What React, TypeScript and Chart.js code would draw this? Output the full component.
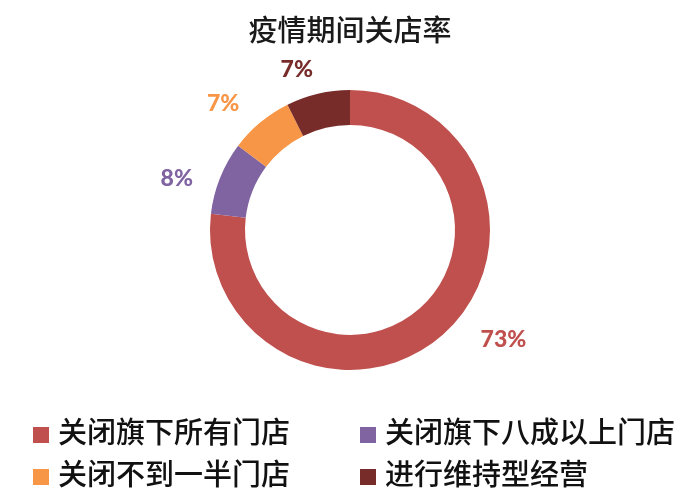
import React, { useEffect, useRef } from 'react';
import { Chart, registerables, Plugin } from 'chart.js';

Chart.register(...registerables);

const title = '疫情期间关店率';
const categories = ['关闭旗下所有门店', '关闭旗下八成以上门店', '关闭不到一半门店', '进行维持型经营'];
const shares = [73, 8, 7, 7];
const colors = ['#C0504D', '#8064A2', '#F79646', '#772C2A'];

// where the percent labels sit round the ring (degrees of shift, px from centre)
const labelShift = [-13, -5, -5, -5];
const labelDist = [188, 181, 180, 170];

const cjk = '"Noto Sans CJK SC", "Noto Sans", sans-serif';

const percentLabels: Plugin<'doughnut'> = {
  id: 'percentLabels',
  afterDatasetsDraw(chart) {
    const { ctx } = chart;
    const meta = chart.getDatasetMeta(0);
    ctx.save();
    ctx.font = '900 23px Lato, "Open Sans", sans-serif';
    ctx.textAlign = 'center';
    ctx.textBaseline = 'middle';
    meta.data.forEach((arc: any, i) => {
      const { x, y, startAngle, endAngle } = arc.getProps(['x', 'y', 'startAngle', 'endAngle'], true);
      const mid = (startAngle + endAngle) / 2 + (labelShift[i] * Math.PI) / 180;
      ctx.fillStyle = colors[i];
      ctx.fillText(shares[i] + '%', x + Math.cos(mid) * labelDist[i], y + 1 + Math.sin(mid) * labelDist[i]);
    });
    ctx.restore();
  },
};

const ClosureChart: React.FC = () => {
  const chartRef = useRef<HTMLCanvasElement>(null);
  const chartInstance = useRef<Chart<'doughnut'>>();

  useEffect(() => {
    if (chartRef.current) {
      chartInstance.current = new Chart(chartRef.current, {
        type: 'doughnut',
        data: {
          labels: categories,
          datasets: [
            {
              data: shares,
              backgroundColor: colors,
              borderWidth: 0,
            },
          ],
        },
        options: {
          animation: false,
          responsive: true,
          maintainAspectRatio: false,
          radius: 140,
          cutout: '75%',
          layout: { padding: { top: 0, bottom: 100, left: 0, right: 0 } },
          plugins: {
            legend: { display: false },
            tooltip: { enabled: false },
            title: {
              display: true,
              text: title,
              color: '#1a1a1a',
              font: { family: cjk, size: 29, weight: 500 },
              padding: { top: 13, bottom: 12 },
            },
          },
        },
        plugins: [percentLabels],
      });
    }

    return () => {
      if (chartInstance.current) {
        chartInstance.current.destroy();
      }
    };
  }, []);

  return <canvas ref={chartRef} />;
};

const App: React.FC = () => (
  <div style={{ position: 'fixed', left: 0, top: 0, width: 700, height: 500, background: '#fff' }}>
    <div style={{ position: 'absolute', left: 0, top: 0, width: 700, height: 500 }}>
      <ClosureChart />
    </div>
    <div
      style={{
        position: 'absolute',
        left: 33,
        top: 409,
        display: 'grid',
        gridTemplateColumns: '327px auto',
        gridAutoRows: '42px',
        fontFamily: cjk,
        fontSize: 29,
        fontWeight: 500,
        color: '#111',
      }}
    >
      {categories.map((c, i) => (
        <div key={c} style={{ display: 'flex', alignItems: 'center', lineHeight: '42px', whiteSpace: 'nowrap' }}>
          <span
            style={{
              display: 'inline-block',
              width: 16,
              height: 16,
              background: colors[i],
              marginRight: 9,
              position: 'relative',
              top: 5,
            }}
          />
          {c}
        </div>
      ))}
    </div>
  </div>
);

export default App;
